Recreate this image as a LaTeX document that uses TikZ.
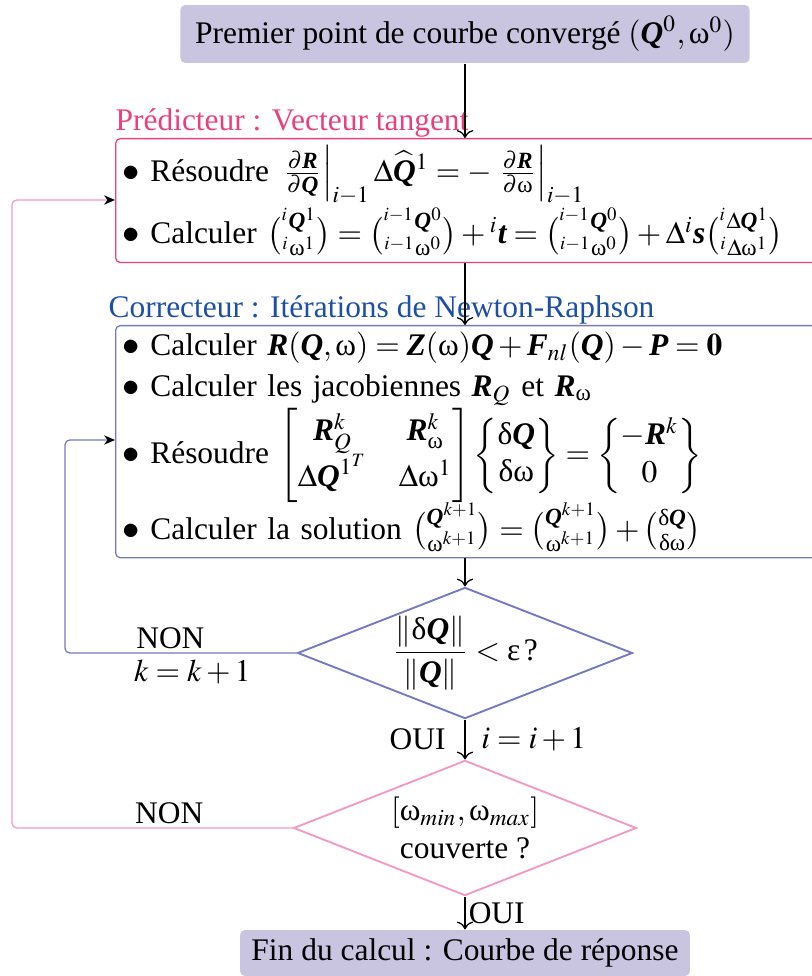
\documentclass[tikz,border=0pt]{standalone}
\usepackage{amsmath}
\usepackage{mathptmx}
\usepackage[no-math]{fontspec}
\setmainfont{Liberation Serif}
\usetikzlibrary{shapes.geometric,arrows.meta}
\definecolor{lavande}{HTML}{C9C4DF}
\definecolor{rosepred}{HTML}{E8417E}
\definecolor{bleucorr}{HTML}{1D4FA3}
\definecolor{bleutrait}{HTML}{7479C0}
\definecolor{roseclair}{HTML}{F29AC6}
\newcommand{\bv}[1]{\text{\bfseries\itshape #1}}
\newcommand{\om}{\text{ω}}
\newcommand{\dl}{\text{δ}}
\newcommand{\ep}{\text{ε}}
\newcommand{\puce}{\scalebox{1.1}{$\bullet$}\ }
\begin{document}
\begin{tikzpicture}[x=0.318pt, y=-0.318pt,
    boite/.style={fill=lavande, rounded corners=1.5pt, minimum height=18.4pt, inner sep=0pt},
    cadre/.style={draw, rounded corners=1.5pt, anchor=north west, align=left,
      inner xsep=2.2pt, inner ysep=0pt, text width=243pt},
    losange/.style={diamond, draw, semithick, aspect=2.55, inner sep=0pt},
    fleche/.style={-{To[length=2.5pt]}},
    retour/.style={rounded corners=1.5pt, -{Stealth[color=black, length=3.5pt, width=3pt]}}]
    \useasboundingbox (0,0) rectangle (811,976);
    \node[boite, minimum width=181pt] (debut) at (465,34) {Premier point de courbe convergé $(\bv{Q}^0,\om^0)$};
    % predicteur
    \node[text=rosepred, anchor=base west, inner sep=0pt] (titrepred) at (115,131) {Prédicteur : Vecteur tangent};
    \node[cadre, draw=rosepred, minimum height=39.4pt] (pred) at (115,138) {%
      \puce Résoudre $\left.\frac{\partial\bv{R}}{\partial\bv{Q}}\right|_{i-1}\Delta\smash[t]{\widehat{\bv{Q}}}^1=-\left.\frac{\partial\bv{R}}{\partial\om}\right|_{i-1}$\\[0pt]
      \puce Calculer $\binom{{}^i\bv{Q}^1}{{}^i\om^1}=\binom{{}^{i-1}\bv{Q}^0}{{}^{i-1}\om^0}+{}^i\bv{t}=\binom{{}^{i-1}\bv{Q}^0}{{}^{i-1}\om^0}+\Delta^i\bv{s}\binom{{}^i\Delta\bv{Q}^1}{{}^i\Delta\om^1}$};
    % correcteur
    \node[text=bleucorr, anchor=base west, inner sep=0pt] (titrecorr) at (108,318) {Correcteur : Itérations de Newton-Raphson};
    \node[cadre, draw=bleutrait, minimum height=73.8pt] (corr) at (115,325) {%
      \puce Calculer $\bv{R}(\bv{Q},\om)=\bv{Z}(\om)\bv{Q}+\bv{F}_{nl}(\bv{Q})-\bv{P}=\mathbf{0}$\\[1pt]
      \puce Calculer les jacobiennes $\bv{R}_Q$ et $\bv{R}_\om$\\
      \puce Résoudre $\begin{bmatrix}\bv{R}_Q^k & \bv{R}_\om^k\\ \Delta\bv{Q}^{1^T} & \Delta\om^1\end{bmatrix}\begin{Bmatrix}\dl\bv{Q}\\ \dl\om\end{Bmatrix}=\begin{Bmatrix}-\bv{R}^k\\ 0\end{Bmatrix}$\\[-1pt]
      \puce Calculer la solution $\binom{\bv{Q}^{k+1}}{\om^{k+1}}=\binom{\bv{Q}^{k+1}}{\om^{k+1}}+\binom{\dl\bv{Q}}{\dl\om}$};
    % tests
    \node[losange, draw=bleutrait, minimum width=106.5pt, minimum height=41.7pt] (test1) at (465,653)
      {$\dfrac{\|\dl\bv{Q}\|}{\|\bv{Q}\|}<\ep\,$?};
    \node[losange, draw=roseclair, minimum width=109pt, minimum height=43pt, align=center] (test2) at (465,828)
      {$[\om_{min},\om_{max}]$\\couverte ?};
    \node[boite, minimum width=143pt, minimum height=14.6pt] (fin) at (465,953) {Fin du calcul : Courbe de réponse};
    \coordinate (boucleA) at (65,440);
    \coordinate (boucleB) at (12,200);
    % liaisons
    \draw[fleche] (debut.south) -- (debut.south |- pred.north);
    \draw[fleche] (pred.south -| debut) -- (corr.north -| debut);
    \draw[fleche] (corr.south -| debut) -- (test1.north);
    \draw[fleche] (test1.south) -- node[left, inner sep=6pt] {OUI} node[right, inner sep=5pt] {$i=i+1$} (test2.north);
    \draw[fleche] (test2.south) -- node[right, inner sep=1pt] {OUI} (fin.north);
    \draw[retour, draw=bleutrait] (test1.west) -- node[above, pos=0.545, inner sep=1pt] {NON} node[below, pos=0.45, inner sep=2pt] {$k=k+1$}
      (test1.west -| boucleA) -- (boucleA) -- (boucleA -| corr.west);
    \draw[retour, draw=roseclair] (test2.west) -- node[above, pos=0.44, inner sep=1pt] {NON}
      (test2.west -| boucleB) -- (boucleB) -- (boucleB -| pred.west);
\end{tikzpicture}
\end{document}
